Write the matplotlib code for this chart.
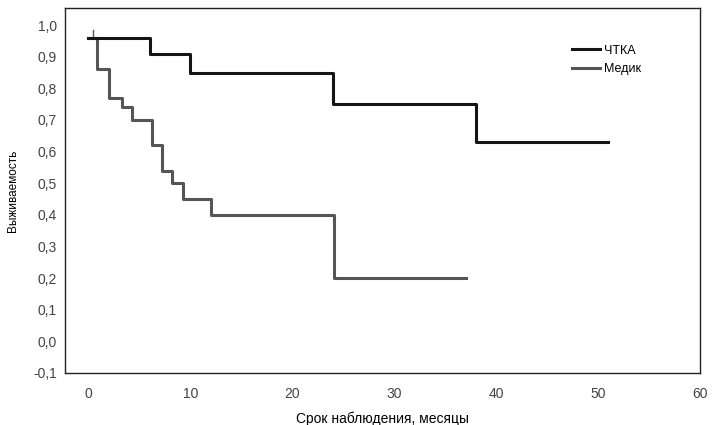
import matplotlib.pyplot as plt
from matplotlib.ticker import FuncFormatter

plt.rcParams['font.family'] = ['Liberation Sans', 'DejaVu Sans']

# ЧТКА - время (мес) и выживаемость
chtka_t = [0, 6, 10, 24, 38, 51]
chtka_s = [0.96, 0.91, 0.85, 0.75, 0.63, 0.63]

# Медик
medik_t = [0, 0.8, 2, 3.3, 4.3, 6.2, 7.2, 8.2, 9.3, 12, 24.1, 37]
medik_s = [0.96, 0.86, 0.77, 0.74, 0.70, 0.62, 0.54, 0.50, 0.45, 0.40, 0.20, 0.20]

x_ticks = [0, 10, 20, 30, 40, 50, 60]
y_ticks = [-0.1, 0.0, 0.1, 0.2, 0.3, 0.4, 0.5, 0.6, 0.7, 0.8, 0.9, 1.0]

fig = plt.figure(figsize=(7.12, 4.25), dpi=100)
ax = fig.add_axes([65/712, 1 - 373/425, 635/712, 365/425])

# серую рисуем первой, чтобы черная была сверху
ax.step(medik_t, medik_s, where='post', color='#555555', lw=2.2, label='Медик', zorder=2)
ax.step(chtka_t, chtka_s, where='post', color='#151515', lw=2.2, label='ЧТКА', zorder=3)
ax.plot([0.4, 0.4], [0.965, 0.985], color='#555555', lw=1)  # метка цензурирования

ax.set_xlim(-2.3, 59.7)
ax.set_ylim(-0.1, 1.054)
ax.set_xticks(x_ticks)
ax.set_yticks(y_ticks)
ax.yaxis.set_major_formatter(FuncFormatter(lambda v, p: f'{v:.1f}'.replace('.', ',')))
ax.tick_params(length=0, labelsize=10, labelcolor='#444444')
ax.tick_params(axis='x', pad=10)
ax.tick_params(axis='y', pad=6)

for s in ax.spines.values():
    s.set_linewidth(1.0)
    s.set_color('#222222')

ax.set_xlabel('Срок наблюдения, месяцы', fontsize=10, labelpad=8)
ax.set_ylabel('Выживаемость', fontsize=8.5, labelpad=10)

h, l = ax.get_legend_handles_labels()
leg = ax.legend(h[::-1], l[::-1], loc='upper right', bbox_to_anchor=(0.925, 0.93), frameon=False,
                fontsize=9, handlelength=2.3, handletextpad=0.3, labelspacing=0.5)

plt.savefig('out.png', dpi=100)
